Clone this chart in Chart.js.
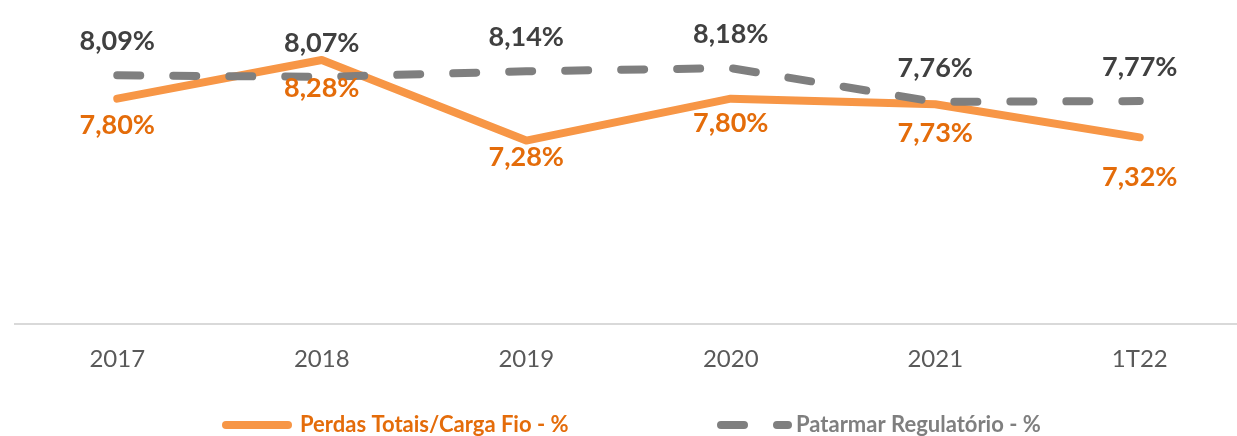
<!DOCTYPE html>
<html>
<head>
<meta charset="utf-8">
<script src="https://cdn.jsdelivr.net/npm/chart.js@4/dist/chart.umd.min.js"></script>
<style>
  html, body { margin: 0; padding: 0; background: #fff; overflow: hidden; }
  #wrap { position: relative; width: 1245px; height: 436px; }
</style>
</head>
<body>
<div id="wrap"><canvas id="chart"></canvas></div>
<script>
// data
const categories = ['2017', '2018', '2019', '2020', '2021', '1T22'];
const perdasTotais = [7.80, 8.28, 7.28, 7.80, 7.73, 7.32];
const patamarRegulatorio = [8.09, 8.07, 8.14, 8.18, 7.76, 7.77];
const seriesNames = ['Perdas Totais/Carga Fio - %', 'Patarmar Regulatório - %'];

const ORANGE = '#F79646';
const ORANGE_TEXT = '#E46C0A';
const GREY = '#7F7F7F';
const GREY_TEXT = '#404040';

const fmt = v => v.toFixed(2).replace('.', ',') + '%';

// value labels above (grey) / below (orange) each point
const valueLabels = {
  id: 'valueLabels',
  afterDatasetsDraw(chart) {
    const ctx = chart.ctx;
    const below = [27, 28, 17, 25, 29, 40];
    ctx.save();
    ctx.font = 'bold 27px Lato';
    ctx.textAlign = 'center';
    ctx.textBaseline = 'middle';
    chart.getDatasetMeta(0).data.forEach((pt, i) => {
      ctx.fillStyle = ORANGE_TEXT;
      ctx.fillText(fmt(perdasTotais[i]), pt.x, pt.y + below[i]);
    });
    chart.getDatasetMeta(1).data.forEach((pt, i) => {
      ctx.fillStyle = GREY_TEXT;
      ctx.fillText(fmt(patamarRegulatorio[i]), pt.x, pt.y - 34);
    });
    ctx.restore();
  }
};

// legend at the bottom, drawn by hand to get line samples
const bottomLegend = {
  id: 'bottomLegend',
  afterDraw(chart) {
    const ctx = chart.ctx;
    const y = 425;
    ctx.save();
    ctx.lineWidth = 8;
    ctx.lineCap = 'round';
    ctx.font = 'bold 22px Lato';
    ctx.textBaseline = 'middle';

    ctx.strokeStyle = ORANGE;
    ctx.beginPath();
    ctx.moveTo(226, y);
    ctx.lineTo(288, y);
    ctx.stroke();
    ctx.fillStyle = ORANGE_TEXT;
    ctx.fillText(seriesNames[0], 300, y);

    ctx.strokeStyle = GREY;
    ctx.setLineDash([23, 33]);
    ctx.beginPath();
    ctx.moveTo(721, y);
    ctx.lineTo(788, y);
    ctx.stroke();
    ctx.setLineDash([]);
    ctx.fillStyle = GREY;
    ctx.fillText(seriesNames[1], 796, y);
    ctx.restore();
  }
};

new Chart(document.getElementById('chart'), {
  type: 'line',
  data: {
    labels: categories,
    datasets: [{
      label: seriesNames[0],
      data: perdasTotais,
      borderColor: ORANGE,
      borderWidth: 8,
      borderCapStyle: 'round',
      borderJoinStyle: 'round',
      pointRadius: 0,
      tension: 0,
      fill: false,
      order: 1
    }, {
      label: seriesNames[1],
      data: patamarRegulatorio,
      borderColor: GREY,
      borderWidth: 8,
      borderDash: [23, 33],
      borderCapStyle: 'round',
      borderJoinStyle: 'round',
      pointRadius: 0,
      tension: 0,
      fill: false,
      order: 0
    }]
  },
  options: {
    responsive: true,
    maintainAspectRatio: false,
    animation: false,
    layout: { padding: { top: 2, left: 15, right: 3, bottom: 41 } },
    plugins: {
      legend: { display: false },
      tooltip: { enabled: false }
    },
    scales: {
      x: {
        offset: true,
        grid: { display: false, drawTicks: false, offset: true },
        border: { display: true, color: '#D9D9D9', width: 2 },
        ticks: { color: '#595959', font: { family: 'Lato', size: 24 }, padding: 21 }
      },
      y: {
        display: false,
        min: 5,
        max: 9
      }
    }
  },
  plugins: [valueLabels, bottomLegend]
});
</script>
</body>
</html>
